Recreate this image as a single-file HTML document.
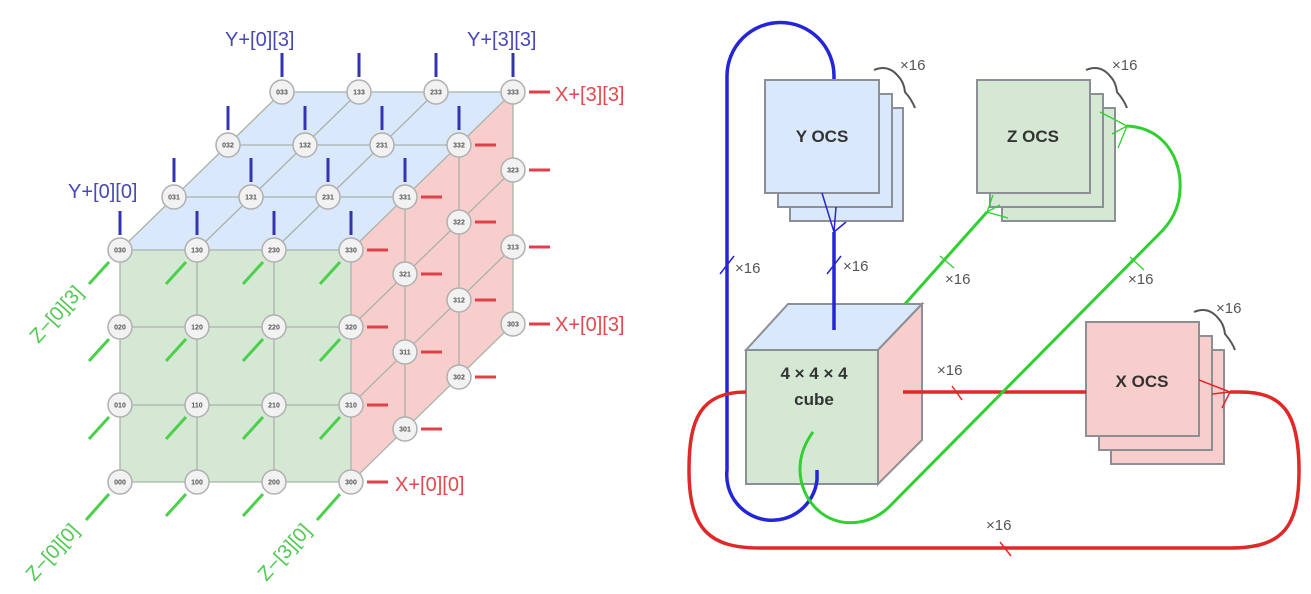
<!DOCTYPE html>
<html><head><meta charset="utf-8"><style>
html,body{margin:0;padding:0;background:#fff;width:1311px;height:594px;overflow:hidden}
svg{display:block}
.n circle{fill:#f2f2f2;stroke:#b0b0b0;stroke-width:1.5}
.n text{font:bold 7px "Liberation Sans",sans-serif;fill:#555;text-anchor:middle}
.g{stroke:#a9b2a9;stroke-width:1.3;fill:none}
.bs line{stroke:#3434b0;stroke-width:3}
.rs line{stroke:#e0404a;stroke-width:3}
.gs line{stroke:#4cd04c;stroke-width:3}
.lb{font:20px "Liberation Sans",sans-serif}
.x16{font:15px "Liberation Sans",sans-serif;fill:#555}
.box{stroke:#8c9096;stroke-width:2}
.bt{font:bold 17px "Liberation Sans",sans-serif;fill:#333;text-anchor:middle}
</style></head><body>
<svg width="1311" height="594" viewBox="0 0 1311 594" xmlns="http://www.w3.org/2000/svg">
<!-- LEFT CUBE faces -->
<polygon points="120,250 351,250 513,92 282,92" fill="#dae8fc"/>
<rect x="120" y="250" width="231" height="232" fill="#d5e8d4"/>
<polygon points="351,250 513,92 513,324 351,482" fill="#f8cecc"/>
<!-- grid lines -->
<g class="g">
<line x1="120" y1="250" x2="120" y2="482"/><line x1="197" y1="250" x2="197" y2="482"/><line x1="274" y1="250" x2="274" y2="482"/><line x1="351" y1="250" x2="351" y2="482"/>
<line x1="120" y1="250" x2="351" y2="250"/><line x1="120" y1="327" x2="351" y2="327"/><line x1="120" y1="405" x2="351" y2="405"/><line x1="120" y1="482" x2="351" y2="482"/>
<line x1="174" y1="197" x2="405" y2="197"/><line x1="228" y1="145" x2="459" y2="145"/><line x1="282" y1="92" x2="513" y2="92"/>
<line x1="120" y1="250" x2="282" y2="92"/><line x1="197" y1="250" x2="359" y2="92"/><line x1="274" y1="250" x2="436" y2="92"/><line x1="351" y1="250" x2="513" y2="92"/>
<line x1="405" y1="197" x2="405" y2="429"/><line x1="459" y1="145" x2="459" y2="377"/><line x1="513" y1="92" x2="513" y2="324"/>
<line x1="351" y1="327" x2="513" y2="170"/><line x1="351" y1="405" x2="513" y2="247"/><line x1="351" y1="482" x2="513" y2="324"/>
</g>
<!-- blue sticks -->
<g class="bs">
<line x1="120" y1="235" x2="120" y2="211"/><line x1="197" y1="235" x2="197" y2="211"/><line x1="274" y1="235" x2="274" y2="211"/><line x1="351" y1="235" x2="351" y2="211"/>
<line x1="174" y1="182" x2="174" y2="158"/><line x1="251" y1="182" x2="251" y2="158"/><line x1="328" y1="182" x2="328" y2="158"/><line x1="405" y1="182" x2="405" y2="158"/>
<line x1="228" y1="130" x2="228" y2="106"/><line x1="305" y1="130" x2="305" y2="106"/><line x1="382" y1="130" x2="382" y2="106"/><line x1="459" y1="130" x2="459" y2="106"/>
<line x1="282" y1="77" x2="282" y2="53"/><line x1="359" y1="77" x2="359" y2="53"/><line x1="436" y1="77" x2="436" y2="53"/><line x1="513" y1="77" x2="513" y2="53"/>
</g>
<!-- red sticks -->
<g class="rs">
<line x1="367" y1="250" x2="388" y2="250"/><line x1="367" y1="327" x2="388" y2="327"/><line x1="367" y1="405" x2="388" y2="405"/><line x1="367" y1="482" x2="388" y2="482"/>
<line x1="421" y1="197" x2="442" y2="197"/><line x1="421" y1="274" x2="442" y2="274"/><line x1="421" y1="352" x2="442" y2="352"/><line x1="421" y1="429" x2="442" y2="429"/>
<line x1="475" y1="145" x2="496" y2="145"/><line x1="475" y1="222" x2="496" y2="222"/><line x1="475" y1="300" x2="496" y2="300"/><line x1="475" y1="377" x2="496" y2="377"/>
<line x1="529" y1="92" x2="550" y2="92"/><line x1="529" y1="170" x2="550" y2="170"/><line x1="529" y1="247" x2="550" y2="247"/><line x1="529" y1="324" x2="550" y2="324"/>
</g>
<!-- green sticks -->
<g class="gs">
<line x1="109" y1="262" x2="89" y2="284"/><line x1="186" y1="262" x2="166" y2="284"/><line x1="263" y1="262" x2="243" y2="284"/><line x1="340" y1="262" x2="320" y2="284"/>
<line x1="109" y1="339" x2="89" y2="361"/><line x1="186" y1="339" x2="166" y2="361"/><line x1="263" y1="339" x2="243" y2="361"/><line x1="340" y1="339" x2="320" y2="361"/>
<line x1="109" y1="417" x2="89" y2="439"/><line x1="186" y1="417" x2="166" y2="439"/><line x1="263" y1="417" x2="243" y2="439"/><line x1="340" y1="417" x2="320" y2="439"/>
<line x1="109" y1="494" x2="86" y2="520"/><line x1="186" y1="494" x2="166" y2="516"/><line x1="263" y1="494" x2="243" y2="516"/><line x1="340" y1="494" x2="317" y2="520"/>
</g>
<!-- nodes -->
<g class="n">
<g transform="translate(120,482)"><circle r="12"/><text y="2.5">000</text></g>
<g transform="translate(197,482)"><circle r="12"/><text y="2.5">100</text></g>
<g transform="translate(274,482)"><circle r="12"/><text y="2.5">200</text></g>
<g transform="translate(351,482)"><circle r="12"/><text y="2.5">300</text></g>
<g transform="translate(120,405)"><circle r="12"/><text y="2.5">010</text></g>
<g transform="translate(197,405)"><circle r="12"/><text y="2.5">110</text></g>
<g transform="translate(274,405)"><circle r="12"/><text y="2.5">210</text></g>
<g transform="translate(351,405)"><circle r="12"/><text y="2.5">310</text></g>
<g transform="translate(120,327)"><circle r="12"/><text y="2.5">020</text></g>
<g transform="translate(197,327)"><circle r="12"/><text y="2.5">120</text></g>
<g transform="translate(274,327)"><circle r="12"/><text y="2.5">220</text></g>
<g transform="translate(351,327)"><circle r="12"/><text y="2.5">320</text></g>
<g transform="translate(120,250)"><circle r="12"/><text y="2.5">030</text></g>
<g transform="translate(197,250)"><circle r="12"/><text y="2.5">130</text></g>
<g transform="translate(274,250)"><circle r="12"/><text y="2.5">230</text></g>
<g transform="translate(351,250)"><circle r="12"/><text y="2.5">330</text></g>
<g transform="translate(174,197)"><circle r="12"/><text y="2.5">031</text></g>
<g transform="translate(251,197)"><circle r="12"/><text y="2.5">131</text></g>
<g transform="translate(328,197)"><circle r="12"/><text y="2.5">231</text></g>
<g transform="translate(405,197)"><circle r="12"/><text y="2.5">331</text></g>
<g transform="translate(228,145)"><circle r="12"/><text y="2.5">032</text></g>
<g transform="translate(305,145)"><circle r="12"/><text y="2.5">132</text></g>
<g transform="translate(382,145)"><circle r="12"/><text y="2.5">231</text></g>
<g transform="translate(459,145)"><circle r="12"/><text y="2.5">332</text></g>
<g transform="translate(282,92)"><circle r="12"/><text y="2.5">033</text></g>
<g transform="translate(359,92)"><circle r="12"/><text y="2.5">133</text></g>
<g transform="translate(436,92)"><circle r="12"/><text y="2.5">233</text></g>
<g transform="translate(513,92)"><circle r="12"/><text y="2.5">333</text></g>
<g transform="translate(405,274)"><circle r="12"/><text y="2.5">321</text></g>
<g transform="translate(405,352)"><circle r="12"/><text y="2.5">311</text></g>
<g transform="translate(405,429)"><circle r="12"/><text y="2.5">301</text></g>
<g transform="translate(459,222)"><circle r="12"/><text y="2.5">322</text></g>
<g transform="translate(459,300)"><circle r="12"/><text y="2.5">312</text></g>
<g transform="translate(459,377)"><circle r="12"/><text y="2.5">302</text></g>
<g transform="translate(513,170)"><circle r="12"/><text y="2.5">323</text></g>
<g transform="translate(513,247)"><circle r="12"/><text y="2.5">313</text></g>
<g transform="translate(513,324)"><circle r="12"/><text y="2.5">303</text></g>
</g>
<!-- labels -->
<g class="lb" fill="#4848b8">
<text x="225" y="46">Y+[0][3]</text>
<text x="467" y="46">Y+[3][3]</text>
<text x="68" y="198">Y+[0][0]</text>
</g>
<g class="lb" fill="#e04a50">
<text x="555" y="101">X+[3][3]</text>
<text x="555" y="331">X+[0][3]</text>
<text x="395" y="491">X+[0][0]</text>
</g>
<g class="lb" fill="#52c852">
<text transform="translate(56,314) rotate(-48)" text-anchor="middle" dy="7">Z−[0][3]</text>
<text transform="translate(52,552) rotate(-48)" text-anchor="middle" dy="7">Z−[0][0]</text>
<text transform="translate(284,552) rotate(-48)" text-anchor="middle" dy="7">Z−[3][0]</text>
</g>

<!-- RIGHT DIAGRAM -->
<!-- Y OCS stack -->
<rect class="box" x="790" y="108" width="113" height="113" fill="#dae8fc"/>
<rect class="box" x="778" y="94" width="114" height="113" fill="#dae8fc"/>
<rect class="box" x="765" y="80" width="114" height="113" fill="#dae8fc"/>
<text class="bt" x="822" y="142">Y OCS</text>
<!-- Z OCS stack -->
<rect class="box" x="1002" y="108" width="113" height="113" fill="#d5e8d4"/>
<rect class="box" x="990" y="94" width="113" height="113" fill="#d5e8d4"/>
<rect class="box" x="977" y="80" width="113" height="113" fill="#d5e8d4"/>
<text class="bt" x="1033" y="142">Z OCS</text>
<!-- X OCS stack -->
<rect class="box" x="1111" y="350" width="113" height="114" fill="#f8cecc"/>
<rect class="box" x="1099" y="336" width="113" height="114" fill="#f8cecc"/>
<rect class="box" x="1086" y="322" width="113" height="114" fill="#f8cecc"/>
<text class="bt" x="1142" y="387">X OCS</text>
<!-- braces -->
<g fill="none" stroke="#555" stroke-width="2">
<path d="M874,70 Q888,64 898,76 Q904,82 905,92 Q912,100 915,108"/>
<path d="M1086,70 Q1100,64 1110,76 Q1116,82 1117,92 Q1124,100 1127,108"/>
<path d="M1194,312 Q1208,306 1218,318 Q1224,324 1225,334 Q1232,342 1235,350"/>
</g>
<g class="x16"><text x="900" y="70">×16</text><text x="1112" y="70">×16</text><text x="1216" y="313">×16</text></g>
<!-- cube -->
<polygon points="746,350 788,304 922,304 878,350" fill="#dae8fc" stroke="#8c9096" stroke-width="2"/>
<polygon points="878,350 922,304 922,440 878,484" fill="#f8cecc" stroke="#8c9096" stroke-width="2"/>
<rect x="746" y="350" width="132" height="134" fill="#d5e8d4" stroke="#8c9096" stroke-width="2"/>
<text class="bt" x="814" y="379">4 × 4 × 4</text>
<text class="bt" x="814" y="405">cube</text>
<!-- blue -->
<g fill="none" stroke="#2424d8" stroke-width="3.5">
<path d="M834,79 L834,76 A53,53 0 0 0 727,76 L727,470 A45,45 0 0 0 817,480 L817,470"/>
<path d="M834,232 L834,330"/>
</g>
<g fill="none" stroke="#2424d8" stroke-width="1.5">
<path d="M822,193 L834,232 M834,232 L846,222 M834,232 L836,207"/>
<line x1="720" y1="274" x2="734" y2="256"/><line x1="827" y1="274" x2="841" y2="256"/>
</g>
<g class="x16"><text x="735" y="273">×16</text><text x="843" y="271">×16</text></g>
<!-- red -->
<g fill="none" stroke="#e02828" stroke-width="3.5">
<path d="M903,392 L1086,392"/>
<path d="M746,392 C700,392 689,420 689,470 C689,530 710,548 760,548 L1230,548 C1285,548 1299,525 1299,470 C1299,412 1282,392 1240,392 L1230,392"/>
</g>
<g fill="none" stroke="#e02828" stroke-width="1.5">
<path d="M1199,380 L1230,392 M1212,394 L1230,392 M1222,408 L1230,392"/>
<line x1="952" y1="386" x2="962" y2="400"/><line x1="1000" y1="542" x2="1011" y2="556"/>
</g>
<g class="x16"><text x="937" y="375">×16</text><text x="986" y="530">×16</text></g>
<!-- green -->
<g fill="none" stroke="#30d030" stroke-width="3">
<path d="M905,304 L987,212"/>
<path d="M1127,126 C1165,128 1182,160 1180,190 C1179,210 1170,222 1163,230 L890,506 C870,526 840,528 820,512 C798,494 792,460 813,432"/>
</g>
<g fill="none" stroke="#30d030" stroke-width="1.3">
<path d="M987,212 L993,195 M987,212 L1000,205 M987,212 L1008,218"/>
<path d="M1127,126 L1100,112 M1127,126 L1112,134 M1127,126 L1118,148"/>
<line x1="940" y1="256" x2="954" y2="268"/><line x1="1130" y1="257" x2="1144" y2="270"/>
</g>
<g class="x16"><text x="945" y="284">×16</text><text x="1128" y="284">×16</text></g>
</svg>
</body></html>
